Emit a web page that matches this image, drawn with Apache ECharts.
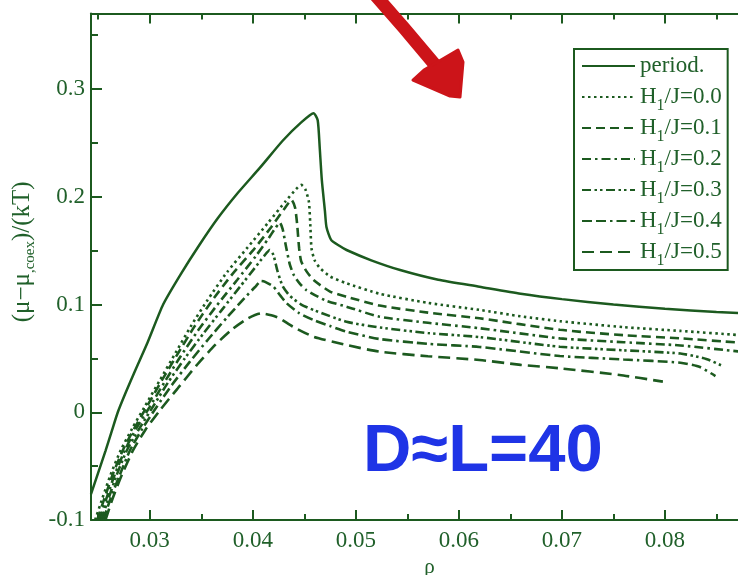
<!DOCTYPE html>
<html>
<head>
<meta charset="utf-8">
<script src="https://cdn.jsdelivr.net/npm/echarts@6/dist/echarts.min.js"></script>
<style>
  html, body { margin: 0; padding: 0; background: #ffffff; }
  #chart { width: 738px; height: 575px; }
</style>
</head>
<body>
<div id="chart"></div>
<script>
// Axis ranges and tick positions
const X_MIN = 0.0243, X_MAX = 0.09;
const Y_MIN = -0.1, Y_MAX = 0.37;
const xMajorTicks = [0.03, 0.04, 0.05, 0.06, 0.07, 0.08];
const xMinorTicks = [0.025, 0.035, 0.045, 0.055, 0.065, 0.075, 0.085];
const yMajorTicks = [-0.1, 0, 0.1, 0.2, 0.3];
const yMinorTicks = [-0.05, 0.05, 0.15, 0.25, 0.35];

// Series names
const seriesNames = ['period.', 'H1/J=0.0', 'H1/J=0.1', 'H1/J=0.2', 'H1/J=0.3', 'H1/J=0.4', 'H1/J=0.5'];

// (rho, (mu - mu_coex)/kT) curves
const periodic = [
  [0.0243,-0.076],[0.0250,-0.056],[0.0257,-0.036],[0.0263,-0.018],[0.0269,0.0],[0.0277,0.019],
  [0.0286,0.039],[0.0298,0.065],[0.0313,0.100],[0.0330,0.128],[0.0348,0.155],[0.0366,0.180],
  [0.0385,0.203],[0.0407,0.227],[0.0429,0.252],[0.0447,0.269],[0.0459,0.2775],[0.0463,0.271],
  [0.0465,0.245],[0.0467,0.2156],[0.0470,0.187],[0.04715,0.172],[0.0476,0.160],[0.0484,0.1545],
  [0.0491,0.1506],[0.0515,0.141],[0.0543,0.132],[0.0580,0.123],[0.0620,0.1165],[0.0660,0.110],
  [0.0700,0.105],[0.0750,0.100],[0.0800,0.096],[0.0850,0.093],[0.0900,0.091]
];
const h00 = [
  [0.0247,-0.1],[0.0254,-0.08],[0.0262,-0.058],[0.0272,-0.035],[0.0283,-0.015],[0.0295,0.005],
  [0.0310,0.030],[0.0325,0.055],[0.0340,0.080],[0.0356,0.104],[0.0375,0.130],[0.0395,0.153],
  [0.0415,0.176],[0.0432,0.196],[0.0442,0.207],[0.0447,0.211],[0.0451,0.207],[0.04545,0.195],
  [0.0456,0.170],[0.0457,0.152],[0.0460,0.141],[0.0465,0.134],[0.0475,0.126],[0.0491,0.1197],
  [0.0523,0.110],[0.0570,0.1015],[0.0620,0.095],[0.0660,0.089],[0.0698,0.0845],[0.0760,0.079],
  [0.0815,0.0755],[0.0871,0.0717],[0.0900,0.070]
];
const h01 = [
  [0.0249,-0.1],[0.0256,-0.08],[0.0264,-0.058],[0.0274,-0.035],[0.0285,-0.015],[0.0297,0.005],
  [0.0312,0.030],[0.0327,0.054],[0.0343,0.079],[0.0360,0.103],[0.0380,0.128],[0.0400,0.150],
  [0.0418,0.172],[0.0430,0.188],[0.04376,0.197],[0.0441,0.190],[0.0443,0.175],[0.0445,0.152],
  [0.0447,0.140],[0.0452,0.131],[0.0459,0.1227],[0.0475,0.112],[0.0491,0.1072],[0.0523,0.099],
  [0.0570,0.0925],[0.0620,0.0872],[0.0698,0.0765],[0.0760,0.0715],[0.0815,0.0686],[0.0871,0.0647],
  [0.0900,0.063]
];
const h02 = [
  [0.0251,-0.1],[0.0258,-0.08],[0.0266,-0.058],[0.0276,-0.035],[0.0287,-0.015],[0.0300,0.005],
  [0.0315,0.029],[0.0330,0.052],[0.0347,0.076],[0.0365,0.099],[0.0385,0.123],[0.0403,0.145],
  [0.0415,0.161],[0.0422,0.171],[0.04262,0.1759],[0.0429,0.170],[0.0432,0.155],[0.0436,0.137],
  [0.0440,0.127],[0.0446,0.119],[0.0452,0.1134],[0.0470,0.104],[0.0491,0.098],[0.0523,0.0887],
  [0.0570,0.083],[0.0620,0.078],[0.0698,0.0686],[0.0760,0.065],[0.0815,0.062],[0.0871,0.0565],
  [0.0900,0.054]
];
const h03 = [
  [0.0253,-0.1],[0.0260,-0.08],[0.0268,-0.058],[0.0278,-0.035],[0.0290,-0.015],[0.0303,0.005],
  [0.0318,0.028],[0.0334,0.050],[0.0352,0.073],[0.0370,0.095],[0.0388,0.117],[0.0402,0.134],
  [0.0411,0.145],[0.04165,0.1506],[0.0420,0.146],[0.0424,0.131],[0.0429,0.117],[0.0436,0.108],
  [0.0447,0.100],[0.0459,0.0949],[0.0491,0.084],[0.0523,0.0787],[0.0570,0.0735],[0.0620,0.0698],
  [0.0698,0.0608],[0.0760,0.0575],[0.0815,0.0545],[0.0840,0.0495],[0.0857,0.0425]
];
const h04 = [
  [0.0255,-0.1],[0.0262,-0.08],[0.0271,-0.058],[0.0281,-0.035],[0.0293,-0.015],[0.0306,0.004],
  [0.0322,0.026],[0.0339,0.047],[0.0357,0.068],[0.0375,0.088],[0.0392,0.106],[0.0402,0.116],
  [0.04084,0.1218],[0.0412,0.121],[0.0420,0.1166],[0.0427,0.108],[0.0433,0.1011],[0.0445,0.092],
  [0.0459,0.0856],[0.0475,0.080],[0.0491,0.0748],[0.0523,0.068],[0.0570,0.0635],[0.0620,0.0606],
  [0.0698,0.0522],[0.0760,0.049],[0.0815,0.046],[0.0834,0.042],[0.0849,0.0336]
];
const h05 = [
  [0.0257,-0.1],[0.0264,-0.08],[0.0273,-0.058],[0.0284,-0.035],[0.0296,-0.016],[0.0310,0.002],
  [0.0327,0.022],[0.0345,0.043],[0.0363,0.062],[0.0380,0.077],[0.0395,0.087],[0.0408,0.0918],
  [0.0418,0.090],[0.0426,0.0872],[0.0439,0.0794],[0.0459,0.0701],[0.0491,0.0624],[0.0523,0.0562],
  [0.0570,0.052],[0.0620,0.0485],[0.0660,0.044],[0.0698,0.0408],[0.0756,0.0346],[0.0798,0.0284]
];
const curves = [periodic, h00, h01, h02, h03, h04, h05];

// Line dash patterns, one per curve
const dashes = ['solid', [2.5, 3.5], [9, 5], [9, 4, 2.5, 4], [9, 3.5, 2.5, 3, 2.5, 3.5], [10, 4, 10, 4, 2.5, 4], [12, 6]];

const GREEN = '#1c5a1f';
const TEXT_GREEN = '#20602a';
const SERIF = '"Liberation Serif", "DejaVu Serif", serif';

function majorMinorX(position) {
  return [
    {
      type: 'value', position: position, min: X_MIN, max: X_MAX,
      axisLine: { show: true, onZero: false, lineStyle: { color: GREEN, width: 2 } },
      axisTick: { show: true, inside: true, length: 10, customValues: xMajorTicks, lineStyle: { color: GREEN, width: 2 } },
      axisLabel: position === 'bottom' ? {
        show: true, customValues: xMajorTicks, margin: 9,
        formatter: v => v.toFixed(2), color: TEXT_GREEN, fontFamily: SERIF, fontSize: 23
      } : { show: false },
      splitLine: { show: false },
      name: position === 'bottom' ? 'ρ' : '', nameLocation: 'middle', nameGap: 33,
      nameTextStyle: { color: TEXT_GREEN, fontFamily: SERIF, fontSize: 21 }
    },
    {
      type: 'value', position: position, min: X_MIN, max: X_MAX,
      axisLine: { show: false, onZero: false },
      axisTick: { show: true, inside: true, length: 6, customValues: xMinorTicks, lineStyle: { color: GREEN, width: 2 } },
      axisLabel: { show: false }, splitLine: { show: false }
    }
  ];
}

const chart = echarts.init(document.getElementById('chart'), null, { renderer: 'canvas' });

const option = {
  backgroundColor: '#ffffff',
  animation: false,
  grid: { left: 91, top: 13.6, right: -30, bottom: 55, outerBoundsMode: 'none', containLabel: false },
  xAxis: [].concat(majorMinorX('bottom'), majorMinorX('top')),
  yAxis: [
    {
      type: 'value', position: 'left', min: Y_MIN, max: Y_MAX,
      axisLine: { show: true, onZero: false, lineStyle: { color: GREEN, width: 2 } },
      axisTick: { show: true, inside: true, length: 11, customValues: yMajorTicks, lineStyle: { color: GREEN, width: 2 } },
      axisLabel: {
        show: true, customValues: yMajorTicks, margin: 6,
        formatter: v => (Math.abs(v) < 1e-9 ? '0' : String(+v.toFixed(1))),
        color: TEXT_GREEN, fontFamily: SERIF, fontSize: 23
      },
      splitLine: { show: false },
      name: '{n|(μ−μ}{s|,coex}{n|)/(kT)}',
      nameLocation: 'middle', nameRotate: 90, nameGap: 52,
      nameTextStyle: {
        color: TEXT_GREEN,
        padding: [0, 0, 0, 30],
        rich: {
          n: { fontFamily: SERIF, fontSize: 25, color: TEXT_GREEN, lineHeight: 30 },
          s: { fontFamily: SERIF, fontSize: 15, color: TEXT_GREEN, lineHeight: 15, verticalAlign: 'bottom' }
        }
      }
    },
    {
      type: 'value', position: 'left', min: Y_MIN, max: Y_MAX,
      axisLine: { show: false, onZero: false },
      axisTick: { show: true, inside: true, length: 7, customValues: yMinorTicks, lineStyle: { color: GREEN, width: 2 } },
      axisLabel: { show: false }, splitLine: { show: false }
    }
  ],
  legend: {
    orient: 'vertical', left: 574, top: 49,
    itemWidth: 53, itemHeight: 12, itemGap: -3,
    padding: [0, 6, 1, 7],
    borderColor: GREEN, borderWidth: 2, backgroundColor: '#ffffff',
    itemStyle: { opacity: 0 },
    data: seriesNames,
    formatter: function (name) {
      if (name.indexOf('H1') === 0) return '{h|H}{s|1}{h|' + name.slice(2) + '}';
      return '{h|' + name + '}{s|\u200b}';
    },
    textStyle: {
      color: TEXT_GREEN,
      height: 34,
      rich: {
        h: { fontFamily: SERIF, fontSize: 23, color: TEXT_GREEN, lineHeight: 34 },
        s: { fontFamily: SERIF, fontSize: 16, color: TEXT_GREEN, lineHeight: 16, padding: [18, 0, 0, 0], verticalAlign: 'top' }
      }
    }
  },
  series: curves.map((data, i) => ({
    name: seriesNames[i],
    type: 'line',
    xAxisIndex: 0, yAxisIndex: 0,
    data: data,
    showSymbol: false, symbol: 'none',
    smooth: 0.2,
    clip: true,
    color: GREEN,
    lineStyle: { color: GREEN, width: i === 0 ? 2.5 : 2.6, type: dashes[i], cap: 'butt' }
  })),
  graphic: [
    // red arrow pointing into the plot
    {
      type: 'polyline', z: 100,
      shape: { points: [[376, -4], [404, 28], [436, 66]] },
      style: { stroke: '#cc1419', lineWidth: 13, fill: null, lineCap: 'round' }
    },
    {
      type: 'polygon', z: 100,
      shape: { points: [[413, 80], [424, 70], [458, 50], [463, 62], [460, 97], [450, 96]] },
      style: { fill: '#cc1419', stroke: '#cc1419', lineWidth: 3, lineJoin: 'round' }
    },
    // handwritten system size note
    {
      type: 'text', z: 100, left: 363, top: 419,
      style: { text: 'D≈L=40', fill: '#1f34e6', font: 'bold 67px "Liberation Sans", Arial, sans-serif' }
    }
  ]
};

chart.setOption(option);
</script>
</body>
</html>
